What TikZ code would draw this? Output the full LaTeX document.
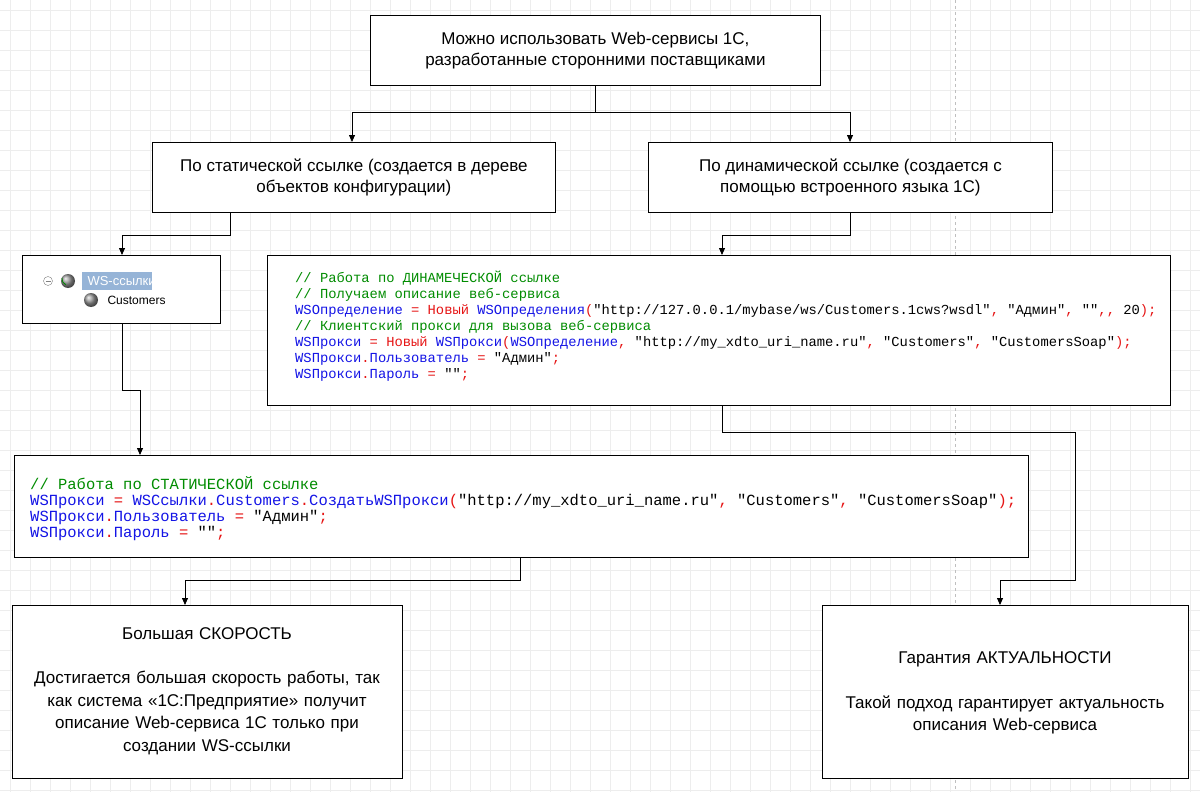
\documentclass[tikz,border=0pt]{standalone}
\usepackage{fontspec}
\setmainfont{Liberation Sans}
\newfontfamily\codefont{Liberation Mono}
\usetikzlibrary{arrows.meta}
\definecolor{cmgreen}{RGB}{0,140,0}
\definecolor{idblue}{RGB}{20,20,230}
\definecolor{kwred}{RGB}{230,20,20}
\definecolor{selblue}{RGB}{150,180,215}
\newcommand{\cm}[1]{\textcolor{cmgreen}{#1}}
\newcommand{\id}[1]{\textcolor{idblue}{#1}}
\newcommand{\kw}[1]{\textcolor{kwred}{#1}}
\tikzset{
  box/.style={draw,thick,fill=white,anchor=north west,inner sep=0pt,align=center,font=\fontsize{17}{21}\selectfont},
  code/.style={anchor=north west,align=left,inner sep=0pt,font=\codefont\fontsize{15.5}{16}\selectfont},
  link/.style={thick,-{Triangle[length=7pt,width=6pt]}}
}
\begin{document}
\begin{tikzpicture}[x=1pt,y=-1pt]
\useasboundingbox (0,0) rectangle (1200,792);
\fill[white] (0,0) rectangle (1200,792);
% background grid
\foreach \gx in {10,30,...,1190} \draw[black!7] (\gx,0) -- (\gx,792);
\foreach \gy in {10,30,...,790} \draw[black!7] (0,\gy) -- (1200,\gy);
\draw[black!25,dashed] (955,0) -- (955,792);
% boxes
\node[box,minimum width=450,minimum height=70] (top) at (370,15)
  {Можно использовать Web-сервисы 1С,\\разработанные сторонними поставщиками};
\node[box,minimum width=403,minimum height=70] (stat) at (152,142)
  {По статической ссылке (создается в дереве\\объектов конфигурации)};
\node[box,minimum width=404,minimum height=70] (dyn) at (648,142)
  {По динамической ссылке (создается с\\помощью встроенного языка 1С)};
\node[box,minimum width=198,minimum height=68] (ws) at (22,255) {};
\node[box,minimum width=903,minimum height=150] (dyncode) at (267,255) {};
\node[box,minimum width=1014,minimum height=102] (statcode) at (14,455) {};
\node[box,minimum width=390,minimum height=173] (speed) at (12,605) {};
\node[box,minimum width=366,minimum height=173] (guar) at (822,605) {};
% ws tree picture
\draw[black!50] (48,281) circle (4.5);
\draw[black!50] (45.5,281) -- (50.5,281);
\foreach \ix/\iy in {68/281,91/300}
  \shade[ball color=black!40] (\ix,\iy) circle (7);
\draw[cmgreen,thick] (62,278) arc (190:110:6);
\fill[selblue] (82,272) rectangle (152,290);
\node[anchor=west,text=white,font=\fontsize{13}{15}\selectfont] (wslbl) at (84,281) {WS-ссылки};
\node[anchor=west,font=\fontsize{12}{14}\selectfont] (cust) at (104,300) {Customers};
% code texts
\node[code,font=\codefont\fontsize{13.8}{16}\selectfont] (dyntext) at (295,271) {%
\cm{// Работа по ДИНАМЕЧЕСКОЙ ссылке}\\
\cm{// Получаем описание веб-сервиса}\\
\id{WSОпределение} \kw{=} \kw{Новый} \id{WSОпределения}\kw{(}"http://127.0.0.1/mybase/ws/Customers.1cws?wsdl"\kw{,} "Админ"\kw{,} ""\kw{,,} 20\kw{);}\\
\cm{// Клиентский прокси для вызова веб-сервиса}\\
\id{WSПрокси} \kw{=} \kw{Новый} \id{WSПрокси}\kw{(}\id{WSОпределение}\kw{,} "http://my\_xdto\_uri\_name.ru"\kw{,} "Customers"\kw{,} "CustomersSoap"\kw{);}\\
\id{WSПрокси}\kw{.}\id{Пользователь} \kw{=} "Админ"\kw{;}\\
\id{WSПрокси}\kw{.}\id{Пароль} \kw{=} ""\kw{;}};
\node[code] (stattext) at (30,476) {%
\cm{// Работа по СТАТИЧЕСКОЙ ссылке}\\
\id{WSПрокси} \kw{=} \id{WSСсылки}\kw{.}\id{Customers}\kw{.}\id{СоздатьWSПрокси}\kw{(}"http://my\_xdto\_uri\_name.ru"\kw{,} "Customers"\kw{,} "CustomersSoap"\kw{);}\\
\id{WSПрокси}\kw{.}\id{Пользователь} \kw{=} "Админ"\kw{;}\\
\id{WSПрокси}\kw{.}\id{Пароль} \kw{=} ""\kw{;}};
% result texts
\node[align=center,text width=380,font=\fontsize{17}{22.5}\selectfont] (speedtext) at (207,691)
  {Большая СКОРОСТЬ\\[22pt]Достигается большая скорость работы, так\\как система «1С:Предприятие» получит\\описание Web-сервиса 1С только при\\создании WS-ссылки};
\node[align=center,text width=364,font=\fontsize{17}{22.5}\selectfont] (guartext) at (1005,693)
  {Гарантия АКТУАЛЬНОСТИ\\[22pt]Такой подход гарантирует актуальность\\описания Web-сервиса};
% connectors
\draw[link] (top.south) |- (352,112) -- (stat.north -| 352,0);
\draw[link] (top.south) |- (850,112) -- (dyn.north -| 850,0);
\draw[link] (stat.south -| 230,0) |- (122,235) -- (ws.north -| 122,0);
\draw[link] (dyn.south) |- (722,235) -- (dyncode.north -| 722,0);
\draw[link] (ws.south -| 122,0) |- (140,390) -- (statcode.north -| 140,0);
\draw[link] (dyncode.south -| 722,0) |- (1075,432) |- (1000,580) -- (guar.north -| 1000,0);
\draw[link] (statcode.south -| 520,0) |- (185,580) -- (speed.north -| 185,0);
\end{tikzpicture}
\end{document}
